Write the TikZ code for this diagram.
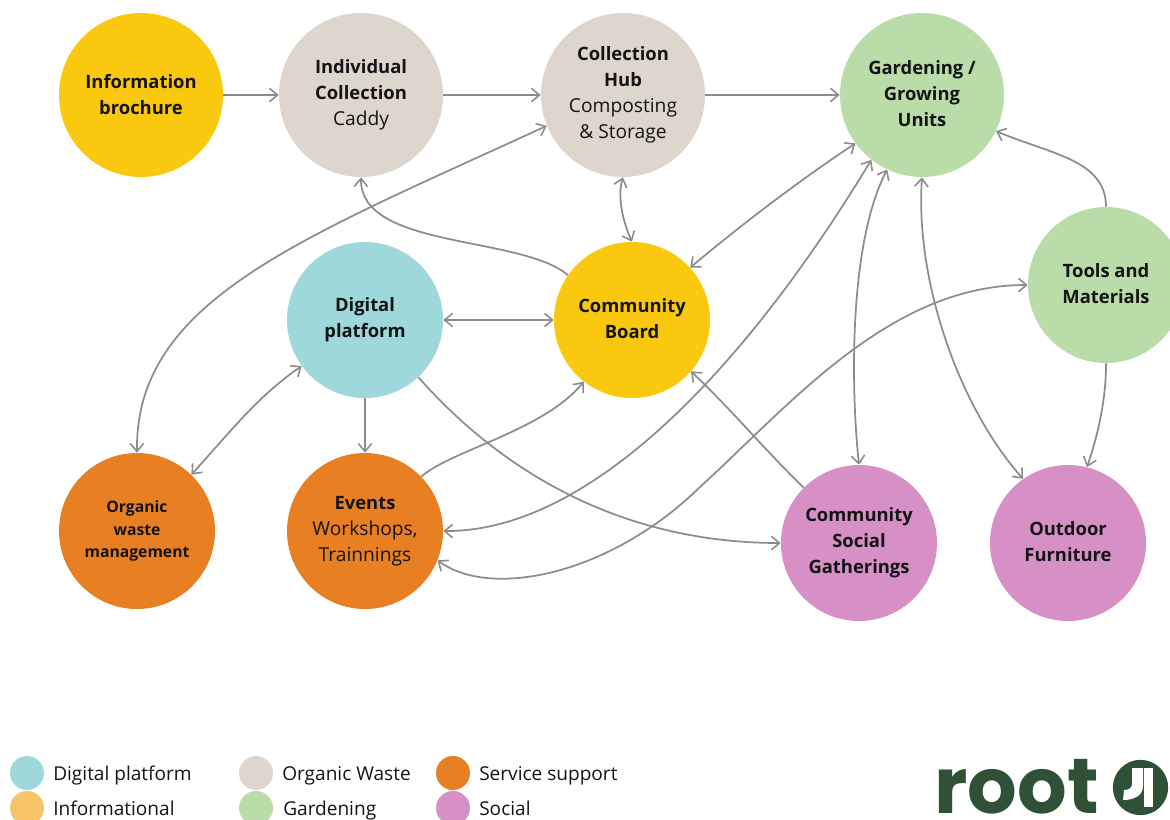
\documentclass[tikz,border=0pt]{standalone}
\usepackage{fontspec}
\setmainfont{Open Sans}
\newfontfamily\logofont{Poppins}
\usetikzlibrary{arrows.meta}
\definecolor{cyellow}{HTML}{FAC80F}
\definecolor{cgrey}{HTML}{DED6CD}
\definecolor{cgreen}{HTML}{B9DCA9}
\definecolor{cteal}{HTML}{9ED8DA}
\definecolor{corange}{HTML}{E97F23}
\definecolor{cpink}{HTML}{D690C6}
\definecolor{cinfo}{HTML}{F7C46A}
\definecolor{clogo}{HTML}{2F5237}
\definecolor{cline}{HTML}{8C8C8C}
\definecolor{ctext}{HTML}{141414}
\newcommand{\rg}[1]{{\fontsize{14.4}{19.7}\selectfont #1}}
\newcommand{\upby}{\rule[-1.5pt]{0pt}{1.5pt}}
\tikzset{
  bubble/.style={circle,draw=none,inner sep=0pt,align=center,text=ctext,font=\fontsize{13.8}{19.5}\selectfont},
  big/.style={bubble,minimum size=123pt},
  small/.style={bubble,minimum size=117pt},
  link/.style={draw=cline,line width=1.3pt,-{Straight Barb[length=6pt,width=10pt,line width=1.2pt]}},
  both/.style={link,{Straight Barb[length=6pt,width=10pt,line width=1.2pt]}-{Straight Barb[length=6pt,width=10pt,line width=1.2pt]}},
  key/.style={circle,draw=none,inner sep=0pt,minimum size=25.5pt},
  keytext/.style={anchor=base west,inner sep=0pt,text=ctext,font=\fontsize{14.3}{16}\selectfont}
}
\begin{document}
\begin{tikzpicture}[x=0.75pt,y=-0.75pt]
\useasboundingbox (0,0) rectangle (1170,820);
\clip (0,0) rectangle (1170,820);
\node[big,fill=cyellow] (info) at (141,95) {\textbf{Information}\\\textbf{brochure}\upby};
\node[big,fill=cgrey] (indiv) at (361,95) {\textbf{Individual}\\\textbf{Collection}\\\rg{Caddy}};
\node[big,fill=cgrey] (hub) at (623,95) {\textbf{Collection}\\\textbf{Hub}\\\rg{Composting}\\\rg{\&~Storage}};
\node[big,fill=cgreen] (garden) at (922,95) {\textbf{Gardening /}\\\textbf{Growing}\\\textbf{Units}\upby};
\node[small,fill=cteal] (digital) at (365,320) {\textbf{Digital}\\\textbf{platform}};
\node[small,fill=cyellow] (board) at (632,320) {\textbf{Community}\\\textbf{Board}\upby};
\node[small,fill=cgreen] (tools) at (1106,285) {\textbf{Tools and}\\\textbf{Materials}\upby};
\node[small,fill=corange,font=\fontsize{11.8}{17}\selectfont] (organic) at (137,531) {\textbf{Organic}\\\textbf{waste}\\\textbf{management}};
\node[small,fill=corange] (events) at (365,531) {\textbf{Events}\\\rg{Workshops,}\\\rg{Trainnings}};
\node[small,fill=cpink] (social) at (859,543) {\textbf{Community}\\\textbf{Social}\\\textbf{Gatherings}};
\node[small,fill=cpink] (outdoor) at (1068,543) {\textbf{Outdoor}\\\textbf{Furniture}\upby};

\draw[link] (info.east) -- (indiv.west);
\draw[link] (indiv.east) -- (hub.west);
\draw[link] (hub.east) -- (garden.west);
\draw[both] (hub.south) .. controls +(-6,20) and +(-9,-20) .. (board.north);
\draw[link] (board.145.3) .. controls +(-47,-40) and +(-1,72) .. (indiv.south);
\draw[both] (organic.north) .. controls +(-2,-153) and +(-245,113) .. (hub.202.3);
\draw[both] (digital.east) -- (board.west);
\draw[both] (digital.216) .. controls +(-43,30) and +(45,-50) .. (organic.46.6);
\draw[link] (digital.south) -- (events.north);
\draw[link] (digital.-47) .. controls +(82,93) and +(-161,0) .. (social.west);
\draw[link] (events.44.5) .. controls +(29,-26) and +(-40,49) .. (board.232.4);
\draw[both] (events.east) .. controls +(146,1) and +(-127,210) .. (garden.232.4);
\coordinate (mid) at (700,487);
\draw[both] (events.-22.6) .. controls +(53,39) and +(-90,88) .. (mid) .. controls +(90,-82) and +(-138,0) .. (tools.west);
\draw[link] (social.135) .. controls +(-40,-39) and +(40,38) .. (board.-41.9);
\draw[both] (board.42.4) .. controls +(50,-42) and +(-56,37) .. (garden.216);
\draw[both] (social.north) .. controls +(-9,-85) and +(-37,70) .. (garden.245);
\draw[both] (outdoor.125.6) .. controls +(-65,-73) and +(-7,102) .. (garden.south);
\draw[link] (tools.north) .. controls +(0,-47) and +(54,23) .. (garden.-26.6);
\draw[link] (tools.south) .. controls +(0,37) and +(11,-32) .. (outdoor.76);

\node[key,fill=cteal] (k1) at (27,773) {};
\node[key,fill=cinfo] (k2) at (27,808) {};
\node[key,fill=cgrey] (k3) at (256,773) {};
\node[key,fill=cgreen] (k4) at (256,808) {};
\node[key,fill=corange] (k5) at (453,773) {};
\node[key,fill=cpink] (k6) at (453,808) {};
\node[keytext] (t1) at (53,780) {Digital platform};
\node[keytext] (t2) at (53,815) {Informational};
\node[keytext] (t3) at (282,780) {Organic Waste};
\node[keytext] (t4) at (283,815) {Gardening};
\node[keytext] (t5) at (479,780) {Service support};
\node[keytext] (t6) at (479,815) {Social};

\node[anchor=base west,inner sep=0pt,text=clogo,font=\logofont\bfseries\fontsize{58.5}{58.5}\selectfont] (root) at (934,813) {root};
\node[circle,fill=clogo,minimum size=41.5pt,inner sep=0pt] (logo) at (1140.5,787.5) {};
\fill[white] (1144,768) rectangle (1153,807);
\fill[white] (1132,768) -- (1143,768) -- (1143,786) .. controls (1143,795) and (1135,800) .. (1123,800) -- (1124,790) .. controls (1129,790) and (1132,788) .. (1132,784) -- cycle;
\end{tikzpicture}
\end{document}
